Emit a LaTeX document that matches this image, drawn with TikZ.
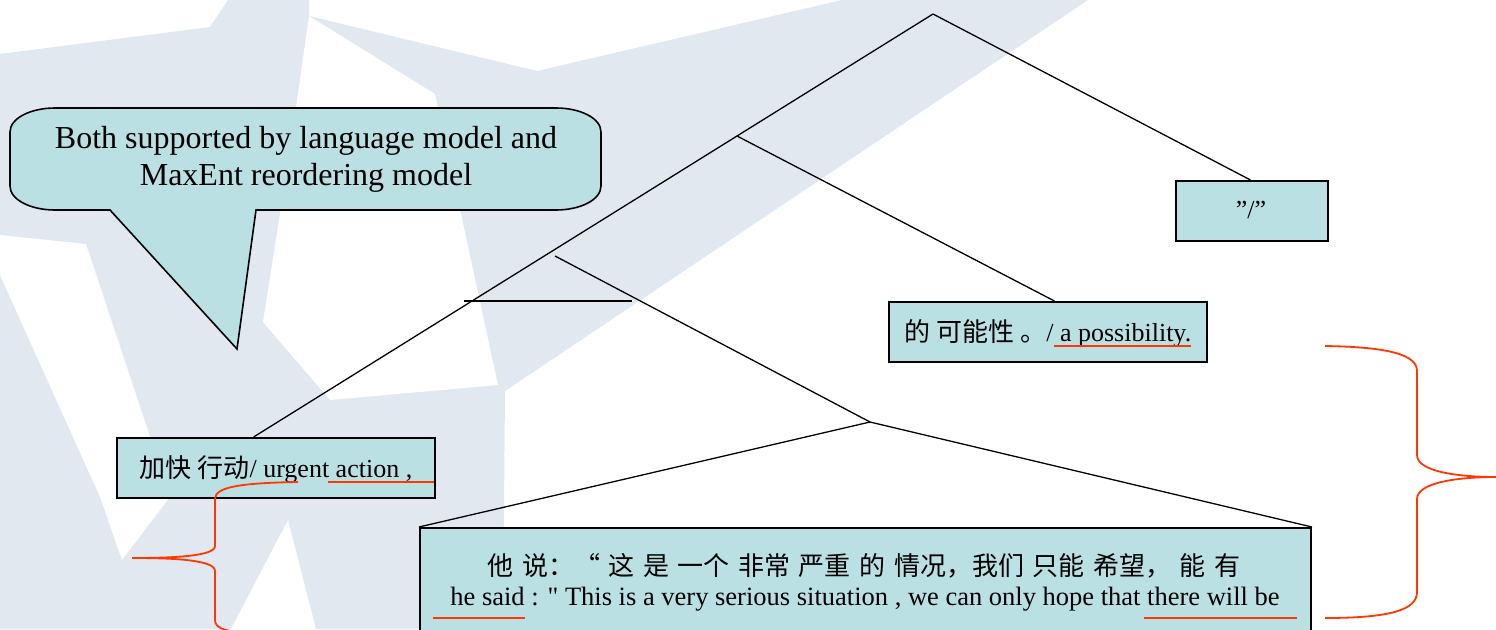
\documentclass[tikz,border=0pt]{standalone}
\usepackage{fontspec}
\usetikzlibrary{calc}
\setmainfont{Liberation Serif}
\newfontfamily\qfont{Liberation Serif}
\newfontfamily\cjk{Noto Sans CJK SC}
\definecolor{wm}{RGB}{225,232,239}
\definecolor{boxfill}{RGB}{186,224,228}
\definecolor{redl}{RGB}{255,55,0}
\begin{document}
\begin{tikzpicture}[x=1pt,y=-1pt,
  wmark/.style={fill=wm,draw=none},
  wcut/.style={fill=white,draw=none},
  treeline/.style={draw=black,line width=1.3pt},
  boxnode/.style={draw=black,fill=boxfill,line width=2pt,inner sep=0pt,anchor=north west},
  txt/.style={inner sep=0pt,anchor=base,font=\fontsize{26}{30}\selectfont},
  redmark/.style={draw=redl,line width=1.8pt},
  callout/.style={draw=black,fill=boxfill,line width=1.6pt}]
\clip (0,0) rectangle (1496,629);
\fill[white] (0,0) rectangle (1496,629);
% watermark
\path[wmark] (0,54) -- (210,27) -- (228,0) -- (309,0) -- (309,16) -- (537,71) -- (842,0)
  -- (1088,0) -- (505,391) -- (503,629) -- (0,629) -- cycle;
\path[wcut] (309,16) -- (435,94) -- (498,385) -- (330,400) -- (263,322) -- (290,150) -- cycle;
\path[wcut] (0,235) -- (86,244) -- (170,497) -- (122,560) -- (100,497) -- (0,275) -- cycle;
\path[wcut] (288,520) -- (231,629) -- (316,629) -- cycle;
% callout
\path[callout] (55,108) -- (556,108) .. controls (580,108) and (601,118) .. (601,132)
  -- (601,186) .. controls (601,200) and (580,210) .. (556,210)
  -- (256,210) -- (237,349) -- (110,210) -- (55,210)
  .. controls (31,210) and (10,200) .. (10,186) -- (10,132)
  .. controls (10,118) and (31,108) .. (55,108) -- cycle;
\node[txt,font=\fontsize{32}{37}\selectfont] (c1) at (306,148) {Both supported by language model and};
\node[txt,font=\fontsize{32}{37}\selectfont] (c2) at (306,185) {MaxEnt reordering model};
% tree points
\coordinate (r) at (933,14);
\coordinate (n1) at (737,136);
\coordinate (n2s) at (555,256);
\coordinate (n3) at (870,422);
\coordinate (bl) at (464,301);
\coordinate (br) at (632,301);
% boxes
\node[boxnode,minimum width=152pt,minimum height=60pt] (q) at (1175,180) {};
\node[boxnode,minimum width=318pt,minimum height=60pt] (p) at (888,301) {};
\node[boxnode,minimum width=318pt,minimum height=60pt] (a) at (116,437) {};
\node[boxnode,minimum width=891pt,minimum height=140pt] (s) at (419,527) {};
% tree lines
\draw[treeline] (r) -- ($(q.north west)!0.49!(q.north east)$);
\draw[treeline] (r) -- (n1) -- ($(a.north west)!0.43!(a.north east)$);
\draw[treeline] (n1) -- ($(p.north west)!0.52!(p.north east)$);
\draw[treeline] (n2s) -- (n3);
\draw[treeline] (n3) -- (s.north west);
\draw[treeline] (n3) -- (s.north east);
\draw[draw=black,line width=2.2pt] (bl) -- (br);
% texts
\node[txt] (qt) at (1251,218) {”/”};
\node[txt] (pt) at (1048,341) {{\cjk 的 可能性 。}/ a possibility.};
\node[txt] (at) at (276,477) {{\cjk 加快 行动}/ urgent action ,};
\node[txt] (s1) at (864,575) {\cjk\makebox[753pt][s]{他 说：“ 这 是 一个 非常 严重 的 情况，我们 只能 希望， 能 有}};
\node[txt,font=\fontsize{26.5}{30}\selectfont] (s2) at (865,605) {he said : {\qfont"} This is a very serious situation , we can only hope that there will be};
% red underlines
\coordinate (u1a) at (328,482); \coordinate (u1b) at (434,482);
\coordinate (u2a) at (1054,346); \coordinate (u2b) at (1191,346);
\coordinate (u3a) at (433,618); \coordinate (u3b) at (525,618);
\coordinate (u4a) at (1144,618); \coordinate (u4b) at (1297,618);
\draw[redmark] (u1a) -- (u1b);
\draw[redmark] (u2a) -- (u2b);
\draw[redmark] (u3a) -- (u3b);
\draw[redmark] (u4a) -- (u4b);
% braces
\coordinate (lb0) at (298,482);
\coordinate (lbt) at (132,558);
\coordinate (lb1) at (240,632);
\draw[redmark] (lb0) .. controls (240,483) and (215,487) .. (215,499) -- (215,546)
  .. controls (215,556) and (175,558) .. (lbt)
  .. controls (175,558) and (215,560) .. (215,571) -- (215,620)
  .. controls (215,628) and (225,631) .. (lb1);
\coordinate (rb0) at (1325,346);
\coordinate (rbt) at (1496,477);
\coordinate (rb1) at (1325,618);
\draw[redmark] (rb0) .. controls (1390,347) and (1417,355) .. (1417,371) -- (1417,455)
  .. controls (1417,472) and (1460,477) .. (rbt)
  .. controls (1460,477) and (1417,482) .. (1417,499) -- (1417,592)
  .. controls (1417,610) and (1390,618) .. (rb1);
\end{tikzpicture}
\end{document}
